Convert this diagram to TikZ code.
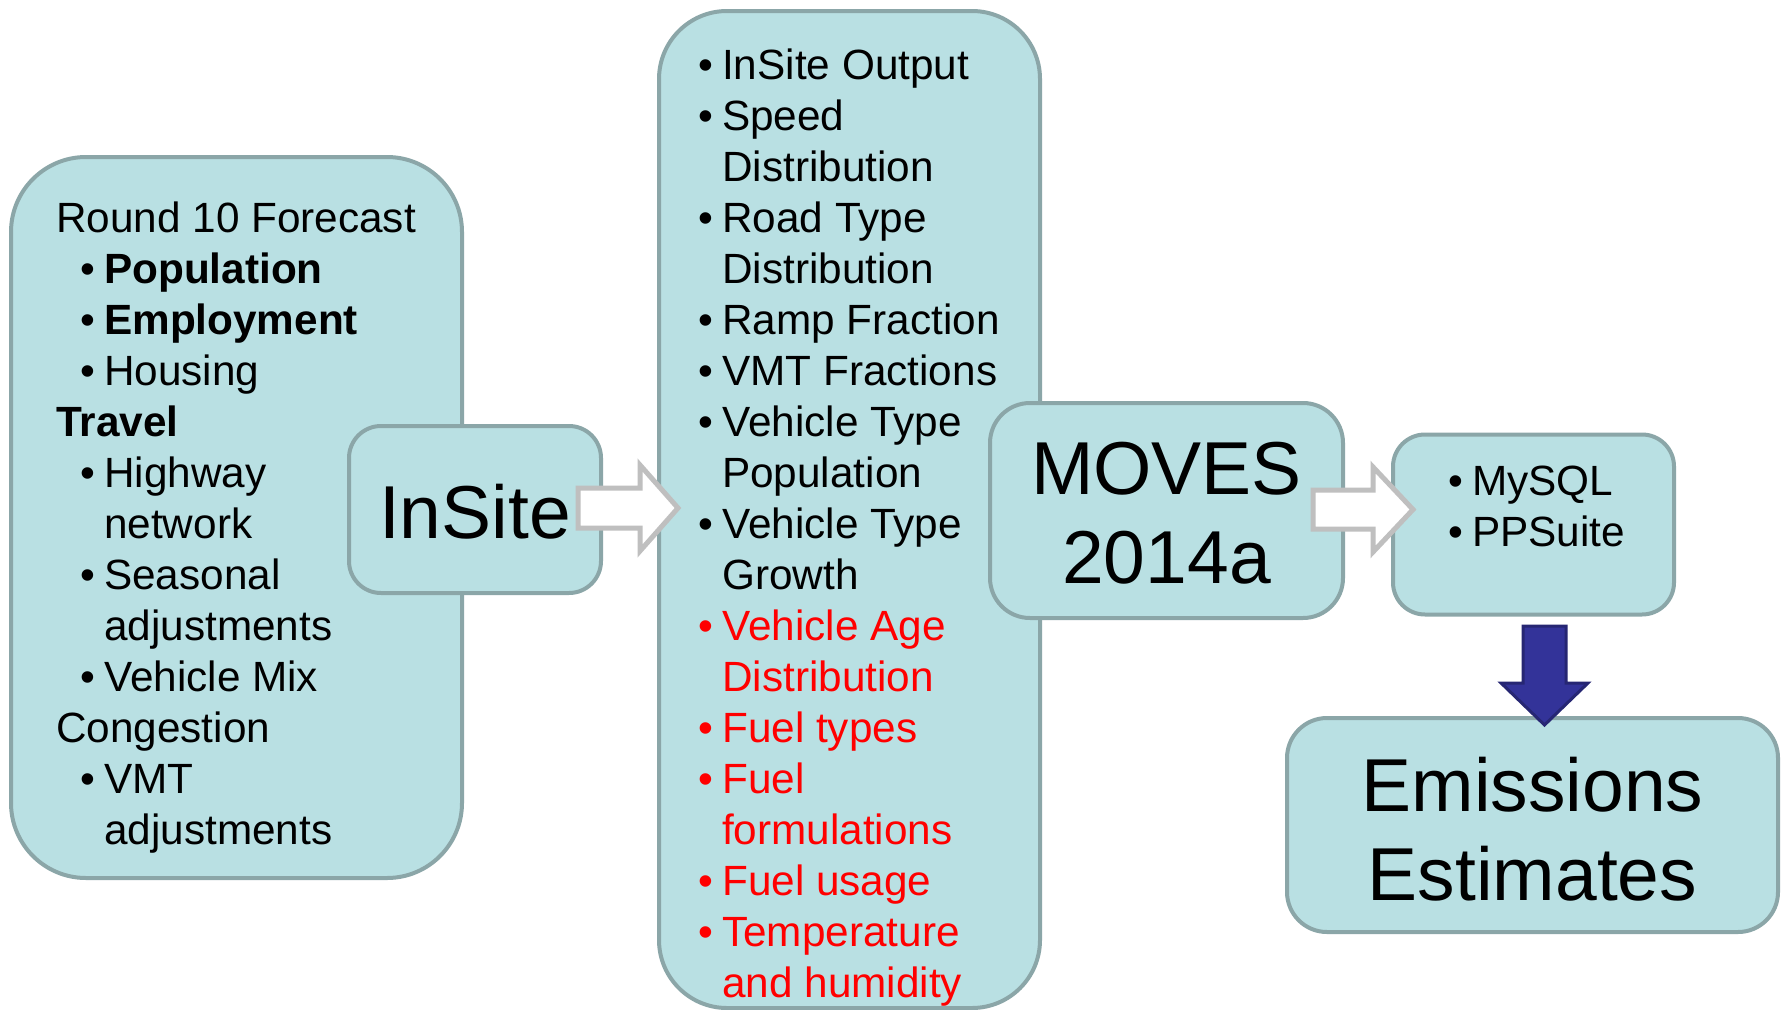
\documentclass[tikz,border=0pt]{standalone}
\usepackage{fontspec}
\setmainfont{Liberation Sans}
\definecolor{boxfill}{RGB}{185,224,227}
\definecolor{boxline}{RGB}{139,166,168}
\definecolor{arrgray}{RGB}{191,191,191}
\definecolor{arrblue}{RGB}{51,51,153}
\definecolor{arrblueline}{RGB}{38,38,115}
\definecolor{redtxt}{RGB}{255,0,0}
\newcommand\bul[1]{\makebox[24pt][l]{•}#1}
\begin{document}
\begin{tikzpicture}[x=1pt,y=-1pt,
  box/.style={draw=boxline,fill=boxfill,line width=4pt,inner sep=0pt,rectangle},
  txt/.style={anchor=base west,inner sep=0pt,font=\fontsize{42.3}{51}\selectfont},
  rtxt/.style={txt,text=redtxt},
  big/.style={anchor=base,inner sep=0pt,font=\fontsize{75}{89}\selectfont},
  grayarrow/.style={draw=arrgray,fill=white,line width=5pt,line join=miter},
  bluearrow/.style={draw=arrblueline,fill=arrblue,line width=3pt,line join=miter}]
\useasboundingbox[fill=white] (0,0) rectangle (1785,1009);

% boxes
\node[box,minimum width=451pt,minimum height=721pt,rounded corners=75pt] (left) at (236.5,517.5) {};
\node[box,minimum width=252pt,minimum height=167pt,rounded corners=32pt] (insite) at (475,509.5) {};
\node[box,minimum width=381pt,minimum height=997pt,rounded corners=68pt] (middle) at (849.5,509.5) {};
\node[box,minimum width=353pt,minimum height=215pt,rounded corners=40pt] (moves) at (1166.5,510.5) {};
\node[box,minimum width=281pt,minimum height=180pt,rounded corners=32pt] (mysql) at (1533.5,524.5) {};
\node[box,minimum width=491pt,minimum height=214pt,rounded corners=40pt] (emis) at (1532.5,825) {};

% left box text
\node[txt] (l0) at (56,232) {Round 10 Forecast};
\node[txt] (l1) at (80,283) {\bul{\textbf{Population}}};
\node[txt] (l2) at (80,334) {\bul{\textbf{Employment}}};
\node[txt] (l3) at (80,385) {\bul{Housing}};
\node[txt] (l4) at (56,436) {\textbf{Travel}};
\node[txt] (l5) at (80,487) {\bul{Highway}};
\node[txt] (l6) at (104,538) {network};
\node[txt] (l7) at (80,589) {\bul{Seasonal}};
\node[txt] (l8) at (104,640) {adjustments};
\node[txt] (l9) at (80,691) {\bul{Vehicle Mix}};
\node[txt] (l10) at (56,742) {Congestion};
\node[txt] (l11) at (80,793) {\bul{VMT}};
\node[txt] (l12) at (104,844) {adjustments};

% middle box text
\node[txt] (m0) at (698,79) {\bul{InSite Output}};
\node[txt] (m1) at (698,130) {\bul{Speed}};
\node[txt] (m2) at (722,181) {Distribution};
\node[txt] (m3) at (698,232) {\bul{Road Type}};
\node[txt] (m4) at (722,283) {Distribution};
\node[txt] (m5) at (698,334) {\bul{Ramp Fraction}};
\node[txt] (m6) at (698,385) {\bul{VMT Fractions}};
\node[txt] (m7) at (698,436) {\bul{Vehicle Type}};
\node[txt] (m8) at (722,487) {Population};
\node[txt] (m9) at (698,538) {\bul{Vehicle Type}};
\node[txt] (m10) at (722,589) {Growth};
\node[rtxt] (m11) at (698,640) {\bul{Vehicle Age}};
\node[rtxt] (m12) at (722,691) {Distribution};
\node[rtxt] (m13) at (698,742) {\bul{Fuel types}};
\node[rtxt] (m14) at (698,793) {\bul{Fuel}};
\node[rtxt] (m15) at (722,844) {formulations};
\node[rtxt] (m16) at (698,895) {\bul{Fuel usage}};
\node[rtxt] (m17) at (698,946) {\bul{Temperature}};
\node[rtxt] (m18) at (722,997) {and humidity};

% other texts
\node[big] (tinsite) at (475,538) {InSite};
\node[big] (tmoves1) at (1166.5,494) {MOVES};
\node[big] (tmoves2) at (1166.5,583) {2014a};
\node[txt] (s0) at (1448,495) {\bul{MySQL}};
\node[txt] (s1) at (1448,546) {\bul{PPSuite}};
\node[big] (te1) at (1532.5,811) {Emissions};
\node[big] (te2) at (1532.5,900) {Estimates};

% block arrows
\draw[grayarrow] (578,488) -- (640,488) -- (640,465) -- (678,508) -- (640,551) -- (640,528) -- (578,528) -- cycle;
\draw[grayarrow] (1313,490) -- (1373,490) -- (1373,467) -- (1413,509.5) -- (1373,552) -- (1373,529) -- (1313,529) -- cycle;
\draw[bluearrow] (1523,626) -- (1566,626) -- (1566,683) -- (1588,683) -- (1544.5,725) -- (1501,683) -- (1523,683) -- cycle;
\end{tikzpicture}
\end{document}
